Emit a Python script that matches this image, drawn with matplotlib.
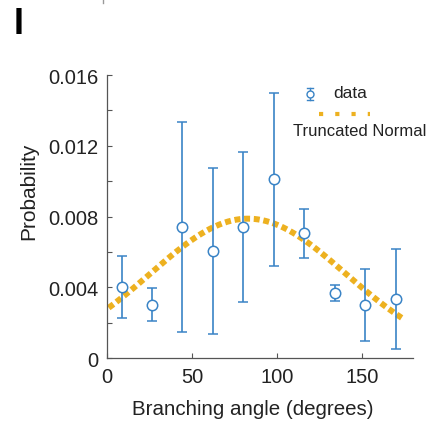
import numpy as np
import matplotlib
matplotlib.use("Agg")
import matplotlib.pyplot as plt
from matplotlib.lines import Line2D
from math import erf, sqrt, pi

plt.rcParams['font.family'] = ['Liberation Sans', 'DejaVu Sans']

# Branching-angle histogram (bin centres, probability, error)
angles = [8.6, 26.7, 44.3, 62.6, 80.2, 98.2, 115.8, 134.0, 152.0, 170.0]
prob = [0.00403, 0.00302, 0.00741, 0.00606, 0.00741, 0.0101, 0.00706, 0.00368, 0.00300, 0.00334]
prob_err = [0.00176, 0.00093, 0.00595, 0.00467, 0.00424, 0.00489, 0.00140, 0.00045, 0.00205, 0.00282]

# Truncated normal fit on [0, 180]
fit_mu = 83.0
fit_sigma = 57.5
fit_low, fit_high = 0.0, 180.0
fit_range = (1.0, 175.0)

xticks = [0, 50, 100, 150]
xtick_labels = ["0", "50", "100", "150"]
yticks = [0, 0.004, 0.008, 0.012, 0.016]
ytick_labels = ["0", "0.004", "0.008", "0.012", "0.016"]
yminor = [0.002, 0.006, 0.010, 0.014]

blue = '#3a84c6'
orange = '#EDB120'


def phi(z):
    return 0.5 * (1 + erf(z / sqrt(2)))


def trunc_norm_pdf(x, mu, sigma, a, b):
    z = (x - mu) / sigma
    norm = phi((b - mu) / sigma) - phi((a - mu) / sigma)
    return np.exp(-0.5 * z ** 2) / (sigma * sqrt(2 * pi) * norm)


W, H = 439, 427
fig = plt.figure(figsize=(W / 100, H / 100), dpi=100)
ax = fig.add_axes([107 / W, 1 - 359.3 / H, (412.7 - 107) / W, (359.3 - 76) / H])

xc = np.linspace(fit_range[0], fit_range[1], 400)
yc = trunc_norm_pdf(xc, fit_mu, fit_sigma, fit_low, fit_high)
ax.plot(xc, yc, color=orange, lw=4.3, dashes=(1, 0.62), dash_capstyle='butt', zorder=2)

ax.errorbar(angles, prob, yerr=prob_err, fmt='o', color=blue, ecolor=blue,
            mfc='white', mec=blue, ms=7.5, mew=1.1, elinewidth=1.2,
            capsize=3.5, capthick=1.2, zorder=3)

ax.set_xlim(0, 180)
ax.set_ylim(0, 0.016)
ax.set_xticks(xticks)
ax.set_xticklabels(xtick_labels)
ax.set_yticks(yticks)
ax.set_yticklabels(ytick_labels)
ax.set_yticks(yminor, minor=True)

for s in ['top', 'right']:
    ax.spines[s].set_visible(False)
for s in ['left', 'bottom']:
    ax.spines[s].set_color('#555555')
    ax.spines[s].set_linewidth(0.9)

ax.tick_params(which='both', direction='in', length=3.5, width=0.8, color='#555555',
               labelsize=14.5, labelcolor='#222222')
ax.tick_params(axis='y', pad=6)
ax.tick_params(axis='x', pad=6)

ax.set_xlabel('Branching angle (degrees)', fontsize=14.8, color='#222222', labelpad=12)
ax.set_ylabel('Probability', fontsize=15, color='#222222', labelpad=8)
ax.xaxis.set_label_coords(0.478, -0.145)
ax.yaxis.set_label_coords(-0.225, 0.594)

# Legend, drawn in figure pixels
def fx(px):
    return px / W


def fy(py):
    return 1 - py / H


tf = fig.transFigure
fig.add_artist(Line2D([fx(310), fx(310)], [fy(89), fy(101)], color=blue, lw=1.0, transform=tf))
for yy in (89, 101):
    fig.add_artist(Line2D([fx(307), fx(313)], [fy(yy), fy(yy)], color=blue, lw=1.0, transform=tf))
fig.add_artist(Line2D([fx(310)], [fy(95)], marker='o', ms=5, mfc='white', mec=blue,
                      mew=1.0, transform=tf))
fig.text(fx(333), fy(93), 'data', fontsize=12.5, color='#222222', va='center', ha='left')
fig.add_artist(Line2D([fx(319), fx(370)], [fy(115), fy(115)], color=orange, lw=3.0,
                      dashes=(1, 2.9), dash_capstyle='butt', transform=tf))
fig.text(fx(293), fy(131), 'Truncated Normal', fontsize=12.0, color='#222222',
         va='center', ha='left')

# Panel label and neighbouring tick mark
fig.text(fx(14), fy(25), 'I', fontsize=26, fontweight='bold', va='center', ha='left')
fig.add_artist(Line2D([fx(103), fx(103)], [fy(0), fy(4)], color='#999999', lw=1.0, transform=tf))

fig.savefig('out.png', dpi=100)
